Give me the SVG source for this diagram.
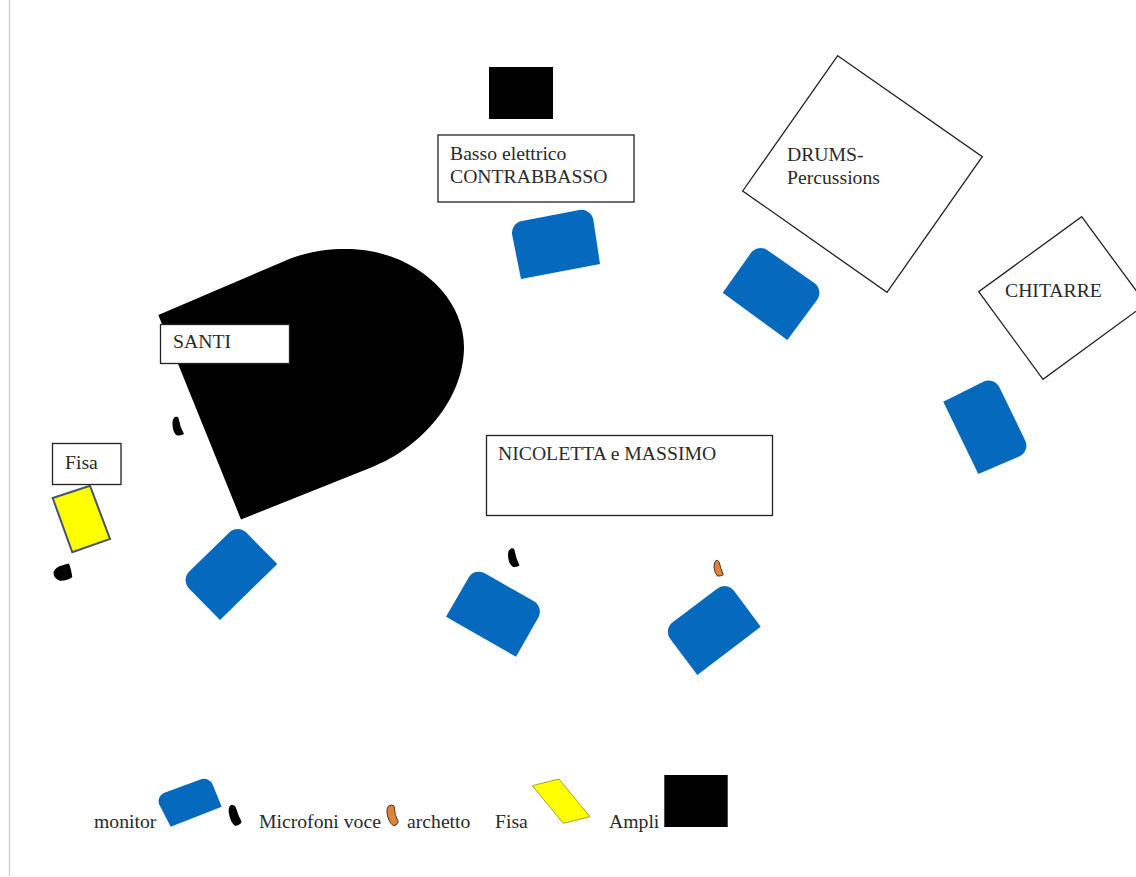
<svg xmlns="http://www.w3.org/2000/svg" width="1136" height="877" viewBox="0 0 1136 877">
<style>
text{font-family:"Liberation Serif","Times New Roman",serif;font-size:19.7px;fill:#2a2a2a}
.box{fill:#fff;stroke:#222;stroke-width:1.3}
.mon{fill:#0569bd}
.mic{fill:#000}
.bow{fill:#e0823c;stroke:#4a3520;stroke-width:1}
.blk{fill:#000}
</style>
<rect width="1136" height="877" fill="#fff"/>
<line x1="9.5" y1="0" x2="9.5" y2="876" stroke="#cfcfcf" stroke-width="1.4"/>
<g id="connectors"/>
<g id="ampli-basso"><rect class="blk" x="489" y="67" width="64" height="52"/></g>
<g id="basso"><rect class="box" x="438" y="135" width="196" height="67"/><text x="450" y="160">Basso elettrico</text><text x="450" y="183">CONTRABBASSO</text></g>
<g id="drums"><polygon class="box" points="837.7,55.7 982.3,156.7 887,292.3 742.7,191"/><text x="787" y="161">DRUMS-</text><text x="787" y="184">Percussions</text></g>
<g id="chitarre"><polygon class="box" points="1081.7,216.7 1146,304 1043,379.3 978.7,291.7"/><text x="1005" y="297">CHITARRE</text></g>
<g id="santi"><path class="blk" d="M158.3,315 L283,261.7 C305,252 325,249 346,249 C412,249 464,295 464,347 C464,400 420,448 373,466.7 L241,519.5 Z"/><rect class="box" x="160.5" y="324.5" width="129" height="39"/><text x="173" y="348">SANTI</text></g>
<g id="fisa"><rect class="box" x="52.5" y="443.5" width="68.500" height="41"/><text x="65" y="469">Fisa</text></g>
<g id="fisa-strumento"><polygon points="52.7,498 90,485.7 110,539 72.300,552.3" fill="#ffff00" stroke="#44546a" stroke-width="2"/></g>
<g id="nicoletta-massimo"><rect class="box" x="486.500" y="435.500" width="286" height="80"/><text x="498" y="460">NICOLETTA e MASSIMO</text></g>
<g id="monitor-basso"><path class="mon" d="M600,264 L521,279 L512.200,235.100 A12,12 0 0 1 522,221 L579.300,210.100 A12,12 0 0 1 593.300,219.600 Z"/></g>
<g id="monitor-drums"><path class="mon" d="M787.300,340 L722.700,292.700 L750.800,253.100 A12,12 0 0 1 767.800,250.400 L814.300,283 A12,12 0 0 1 817.200,299.700 Z"/></g>
<g id="monitor-chitarre"><path class="mon" d="M978.300,474 L943.300,401.700 L983.300,381.800 A12,12 0 0 1 999.500,387.600 L1025.200,440.400 A12,12 0 0 1 1019.600,456.300 Z"/></g>
<g id="monitor-santi"><path class="mon" d="M277.300,564 L220,620 L189,588.400 A12,12 0 0 1 189.500,571.200 L229,532.700 A12,12 0 0 1 246.300,532.600 Z"/></g>
<g id="monitor-nicoletta"><path class="mon" d="M516,656.700 L446,616.700 L468.500,577.800 A12,12 0 0 1 485.200,573.500 L533.500,601.100 A12,12 0 0 1 538.300,617.600 Z"/></g>
<g id="monitor-massimo"><path class="mon" d="M760.700,626.700 L697.300,675 L670.300,639.100 A12,12 0 0 1 673,622.100 L717.100,588.700 A12,12 0 0 1 734.200,590.900 Z"/></g>
<g id="mic-santi"><path class="mic" d="M175,417 Q178,416 178.500,418 Q180,427 184,434 Q180,436 177,435.500 Q173,433 172.500,425 Q172,419 175,417 Z"/></g>
<g id="mic-fisa"><path class="mic" d="M53.500,572 Q56,566.500 62,565.500 Q66,564 69,563.500 Q71.500,570 72.300,577 Q67,581 60,580.700 Q53,578.500 53.500,572 Z"/></g>
<g id="mic-nicoletta"><path class="mic" d="M511,548.500 Q514,547.500 514.500,550 Q516,559 519.500,565.500 Q516,567.500 513,567 Q508.500,564 508,556 Q507.500,550 511,548.500 Z"/></g>
<g id="mic-massimo"><path class="bow" d="M716,560.500 Q718,559.500 719,562 Q721,569 723.300,574.800 Q720,576.500 717.500,576 Q714.500,573 714,567 Q714,562 716,560.500 Z"/></g>
<g id="legenda">
<text x="94" y="828">monitor</text>
<path class="mon" d="M221.700,806.700 L170.700,826.700 L159.100,804.300 A9,9 0 0 1 163.700,793 L200.400,779.500 A9,9 0 0 1 212.600,784.600 Z"/>
<path class="mic" d="M231,805 Q235,804.500 236,808 Q238,815 241.700,822 Q239,826 235,825.700 Q231,823 229.500,816 Q227,808 231,805 Z"/>
<text x="259" y="828">Microfoni voce</text>
<path class="bow" d="M388.500,806 Q392,804 394,806 Q394.500,815 398.300,822 Q396,826.500 393,825.500 Q388.500,822 387,813 Q386.500,808 388.500,806 Z"/>
<text x="407" y="828">archetto</text>
<text x="495" y="828">Fisa</text>
<polygon points="532.300,785.700 559,779 590,816.700 563.300,823.300" fill="#ffff00" stroke="#a5a520" stroke-width="1"/>
<text x="609" y="828">Ampli</text>
<rect class="blk" x="664.300" y="775" width="63.400" height="52"/>
</g>
</svg>
